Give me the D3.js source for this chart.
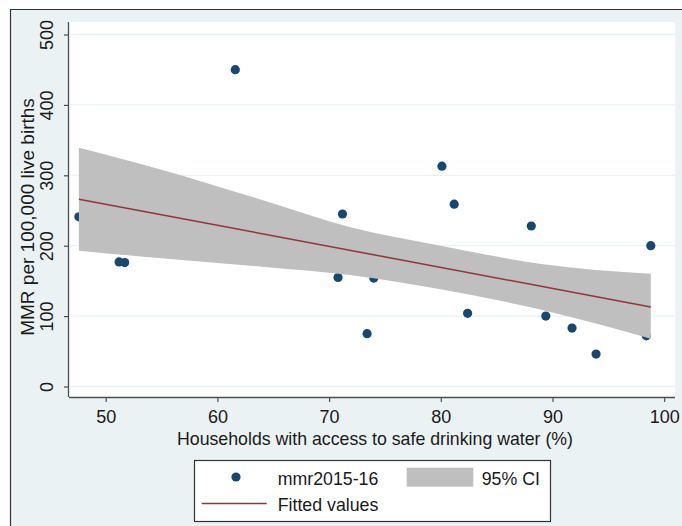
<!DOCTYPE html>
<html>
<head>
<meta charset="utf-8">
<script src="https://cdn.jsdelivr.net/npm/d3@7"></script>
<style>
  html, body { margin: 0; padding: 0; background: #ffffff; }
  svg { display: block; font-family: "Liberation Sans", Arial, sans-serif; }
</style>
</head>
<body>
<svg id="chart" width="682" height="526"></svg>
<script>
// ---- Data ----
const waterAccess = [47.6, 51.2, 51.7, 61.6, 70.8, 71.2, 73.4, 74.0, 80.1, 81.2, 82.4, 88.1, 89.4, 91.75, 93.9, 98.4, 98.8];
const mmr2015_16 = [241, 177, 176, 450, 155, 245, 75, 154, 313, 259, 104, 228, 100, 83, 46, 72, 200];

const fitX = [47.6, 98.8];
const fitY = [266, 113];

const ciX = [47.6, 55, 64, 72, 80, 89, 98.8];
const ciUpper = [339, 308, 265, 226, 200, 174, 160];
const ciLower = [193, 182, 170, 158, 138, 109, 68];

const xTicks = [50, 60, 70, 80, 90, 100];
const yTicks = [0, 100, 200, 300, 400, 500];

const xTitle = "Households with access to safe drinking water (%)";
const yTitle = "MMR per 100,000 live births";
const legendLabels = ["mmr2015-16", "95% CI", "Fitted values"];

// ---- Drawing ----
const svg = d3.select("#chart");
const W = 682, H = 526;
const plot = { left: 69, right: 675, top: 22, bottom: 397 };

const x = d3.scaleLinear().domain([50, 100]).range([105.7, 664.2]);
const y = d3.scaleLinear().domain([0, 500]).range([386.5, 34.5]);

const bg = "#eaf2f3";
const navy = "#1a476f";
const maroon = "#90353b";
const band = "#bfbfbf";
const axisCol = "#4d4d4d";

// outer background & frame
svg.append("rect").attr("x", 0).attr("y", 0).attr("width", W).attr("height", H).attr("fill", "#ffffff");
svg.append("rect").attr("x", 10).attr("y", 9).attr("width", W).attr("height", H).attr("fill", bg);
svg.append("line").attr("x1", 10.5).attr("x2", 10.5).attr("y1", 9).attr("y2", H).attr("stroke", "#333").attr("stroke-width", 1.2);
svg.append("line").attr("x1", 10).attr("x2", W).attr("y1", 9.5).attr("y2", 9.5).attr("stroke", "#333").attr("stroke-width", 1.2);

// plot region
svg.append("rect").attr("x", plot.left).attr("y", plot.top)
  .attr("width", plot.right - plot.left).attr("height", plot.bottom - plot.top).attr("fill", "#ffffff");

// gridlines
svg.append("g").selectAll("line").data(yTicks).join("line")
  .attr("x1", plot.left + 1).attr("x2", plot.right)
  .attr("y1", d => y(d)).attr("y2", d => y(d))
  .attr("stroke", bg).attr("stroke-width", 1.3);

// scatter points
svg.append("g").selectAll("circle").data(waterAccess.map((v, i) => [v, mmr2015_16[i]])).join("circle")
  .attr("cx", d => x(d[0])).attr("cy", d => y(d[1])).attr("r", 4.6).attr("fill", navy);

// CI band
const ciData = ciX.map((v, i) => ({ x: v, lo: ciLower[i], hi: ciUpper[i] }));
svg.append("path").datum(ciData)
  .attr("d", d3.area().x(d => x(d.x)).y0(d => y(d.lo)).y1(d => y(d.hi)).curve(d3.curveMonotoneX))
  .attr("fill", band);

// fitted line
svg.append("path").datum(fitX.map((v, i) => [v, fitY[i]]))
  .attr("d", d3.line().x(d => x(d[0])).y(d => y(d[1])))
  .attr("fill", "none").attr("stroke", maroon).attr("stroke-width", 1.5);

// axes
const xAxis = svg.append("g").attr("transform", `translate(0,${plot.bottom})`)
  .call(d3.axisBottom(x).tickValues(xTicks).tickSize(5).tickSizeOuter(0).tickPadding(8));
xAxis.select(".domain").attr("d", `M${plot.left},0.5H${plot.right}`).attr("stroke", axisCol).attr("stroke-width", 1.3);
xAxis.selectAll(".tick line").attr("stroke", axisCol).attr("stroke-width", 1.2);
xAxis.selectAll(".tick text").attr("font-size", 18).attr("fill", "#1a1a1a")
  .attr("font-family", "Liberation Sans, Arial, sans-serif").attr("dy", "0.71em");

const yAxis = svg.append("g").attr("transform", `translate(${plot.left},0)`)
  .call(d3.axisLeft(y).tickValues(yTicks).tickSize(5).tickSizeOuter(0).tickPadding(0));
yAxis.select(".domain").attr("d", `M-0.5,${plot.top}V${plot.bottom}`).attr("stroke", axisCol).attr("stroke-width", 1.3);
yAxis.selectAll(".tick line").attr("stroke", axisCol).attr("stroke-width", 1.2);
yAxis.selectAll(".tick text")
  .attr("font-size", 18).attr("fill", "#1a1a1a")
  .attr("font-family", "Liberation Sans, Arial, sans-serif")
  .attr("x", null).attr("dy", null)
  .attr("text-anchor", "middle")
  .attr("transform", "translate(-16.5,0) rotate(-90)");

// axis titles
svg.append("text").attr("x", 375).attr("y", 445).attr("text-anchor", "middle")
  .attr("font-size", 19).attr("fill", "#1a1a1a")
  .attr("textLength", 396).attr("lengthAdjust", "spacingAndGlyphs")
  .text(xTitle);
svg.append("text").attr("transform", "translate(33.5,217) rotate(-90)").attr("text-anchor", "middle")
  .attr("font-size", 19).attr("fill", "#1a1a1a")
  .text(yTitle);

// legend
const lg = svg.append("g");
lg.append("rect").attr("x", 194.5).attr("y", 460.5).attr("width", 356).attr("height", 61)
  .attr("fill", "#ffffff").attr("stroke", "#333").attr("stroke-width", 1.2);
lg.append("circle").attr("cx", 236).attr("cy", 477).attr("r", 4.6).attr("fill", navy);
lg.append("rect").attr("x", 406.7).attr("y", 467.7).attr("width", 66.6).attr("height", 19).attr("fill", band);
lg.append("line").attr("x1", 201.7).attr("x2", 266.7).attr("y1", 503.5).attr("y2", 503.5)
  .attr("stroke", maroon).attr("stroke-width", 1.5);
const legPos = [[277.7, 485, 100.7], [481.7, 485, 58.3], [277.7, 511, 100.7]];
lg.selectAll("text.leg").data(legendLabels).join("text").attr("class", "leg")
  .attr("x", (d, i) => legPos[i][0]).attr("y", (d, i) => legPos[i][1])
  .attr("textLength", (d, i) => legPos[i][2]).attr("lengthAdjust", "spacingAndGlyphs")
  .attr("font-size", 18.5).attr("fill", "#1a1a1a")
  .text(d => d);
</script>
</body>
</html>
